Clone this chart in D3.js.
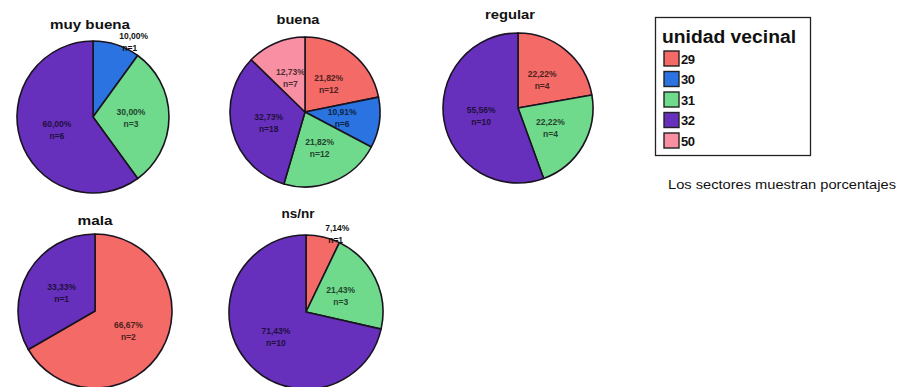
<!DOCTYPE html>
<html>
<head>
<meta charset="utf-8">
<script src="https://cdn.jsdelivr.net/npm/d3@7/dist/d3.min.js"></script>
<style>
  html, body { margin: 0; padding: 0; background: #fff; }
  svg { display: block; font-family: "Liberation Sans", Arial, sans-serif; }
</style>
</head>
<body>
<svg id="chart" width="900" height="387"></svg>
<script>
// Satisfaction categories, one pie each
const categories = ["muy buena", "buena", "regular", "mala", "ns/nr"];
// Neighbourhood units (legend keys)
const units = ["29", "30", "31", "32", "50"];
const unitColors = ["#f46a66", "#2a73e0", "#6fd98c", "#6630bd", "#f88fa2"];
// Counts per unit, aligned with categories
const n29 = [0, 12, 4, 2, 1];
const n30 = [1, 6, 0, 0, 0];
const n31 = [3, 12, 4, 0, 3];
const n32 = [6, 18, 10, 1, 10];
const n50 = [0, 7, 0, 0, 0];
const footnote = "Los sectores muestran porcentajes";
const legendTitle = "unidad vecinal";

const countsByUnit = [n29, n30, n31, n32, n50];

// Panel layout: pie centre, radius and title placement
const panels = [
  { cx: 93,  cy: 117, r: 76, tx: 90,  ty: 29,  tw: 80 },
  { cx: 305, cy: 112, r: 75, tx: 298, ty: 24,  tw: 43 },
  { cx: 518, cy: 108, r: 75, tx: 510, ty: 19,  tw: 50 },
  { cx: 95,  cy: 311, r: 77, tx: 95,  ty: 225, tw: 35 },
  { cx: 306, cy: 312, r: 77, tx: 298, ty: 218, tw: 33 }
];

const svg = d3.select("#chart");
const color = d3.scaleOrdinal().domain(units).range(unitColors);
const es = d3.formatLocale({ decimal: ",", thousands: ".", grouping: [3], currency: ["", "€"] });
const pct = es.format(".2f");

const pie = d3.pie().sort(null).value(d => d.n);

categories.forEach((cat, ci) => {
  const p = panels[ci];
  const rows = units.map((u, ui) => ({ unit: u, n: countsByUnit[ui][ci] })).filter(d => d.n > 0);
  const total = d3.sum(rows, d => d.n);
  const arcs = pie(rows);
  const arc = d3.arc().innerRadius(0).outerRadius(p.r);
  const inner = d3.arc().innerRadius(p.r * 0.5).outerRadius(p.r * 0.5);

  const g = svg.append("g").attr("transform", `translate(${p.cx},${p.cy})`);

  g.selectAll("path").data(arcs).join("path")
    .attr("d", arc)
    .attr("fill", d => color(d.data.unit))
    .attr("stroke", "#1a1420")
    .attr("stroke-width", 1.6)
    .attr("stroke-linejoin", "round");

  const labels = g.selectAll("g.lab").data(arcs).join("g").attr("class", "lab");
  labels.each(function (d) {
    const share = d.data.n / total;
    const sel = d3.select(this);
    const mid = (d.startAngle + d.endAngle) / 2;
    let x, y, anchor;
    if (share < 0.105) {
      const rr = p.r * 1.12;
      x = Math.sin(mid) * rr;
      y = -Math.cos(mid) * rr + 3;
      anchor = "start";
    } else {
      [x, y] = inner.centroid(d);
      y -= 2;
      anchor = "middle";
    }
    const fill = share < 0.105 ? "#111" : d3.color(color(d.data.unit)).darker(3.2).formatHex();
    const t = sel.append("text")
      .attr("text-anchor", anchor)
      .attr("font-size", 8.5)
      .attr("font-weight", "bold")
      .attr("fill", fill);
    t.append("tspan").attr("x", x).attr("y", y).text(pct(share * 100) + "%");
    t.append("tspan").attr("x", x + (anchor === "start" ? 3 : 0)).attr("y", y + 12).text("n=" + d.data.n);
  });

  svg.append("text")
    .attr("x", p.tx).attr("y", p.ty)
    .attr("text-anchor", "middle")
    .attr("font-size", 13)
    .attr("font-weight", "bold")
    .attr("fill", "#111")
    .attr("textLength", p.tw)
    .attr("lengthAdjust", "spacingAndGlyphs")
    .text(cat);
});

// Legend
const lg = svg.append("g");
lg.append("rect")
  .attr("x", 655.5).attr("y", 17.5).attr("width", 155).attr("height", 138)
  .attr("fill", "#fff").attr("stroke", "#222").attr("stroke-width", 1.3);
lg.append("text")
  .attr("x", 662).attr("y", 43)
  .attr("font-size", 17.5).attr("font-weight", "bold").attr("fill", "#111")
  .attr("textLength", 134).attr("lengthAdjust", "spacingAndGlyphs")
  .text(legendTitle);
const ly = d3.scalePoint().domain(units).range([58, 140]);
const items = lg.selectAll("g.item").data(units).join("g").attr("class", "item")
  .attr("transform", u => `translate(664,${ly(u)})`);
items.append("rect")
  .attr("x", 0).attr("y", -7).attr("width", 15).attr("height", 15)
  .attr("fill", u => color(u)).attr("stroke", "#222").attr("stroke-width", 1.4);
items.append("text")
  .attr("x", 17).attr("y", 5.5)
  .attr("font-size", 13).attr("font-weight", "bold").attr("fill", "#111")
  .attr("letter-spacing", -0.6)
  .text(u => u);

svg.append("text")
  .attr("x", 668).attr("y", 189)
  .attr("font-size", 13).attr("fill", "#111")
  .attr("textLength", 228).attr("lengthAdjust", "spacingAndGlyphs")
  .text(footnote);
</script>
</body>
</html>
